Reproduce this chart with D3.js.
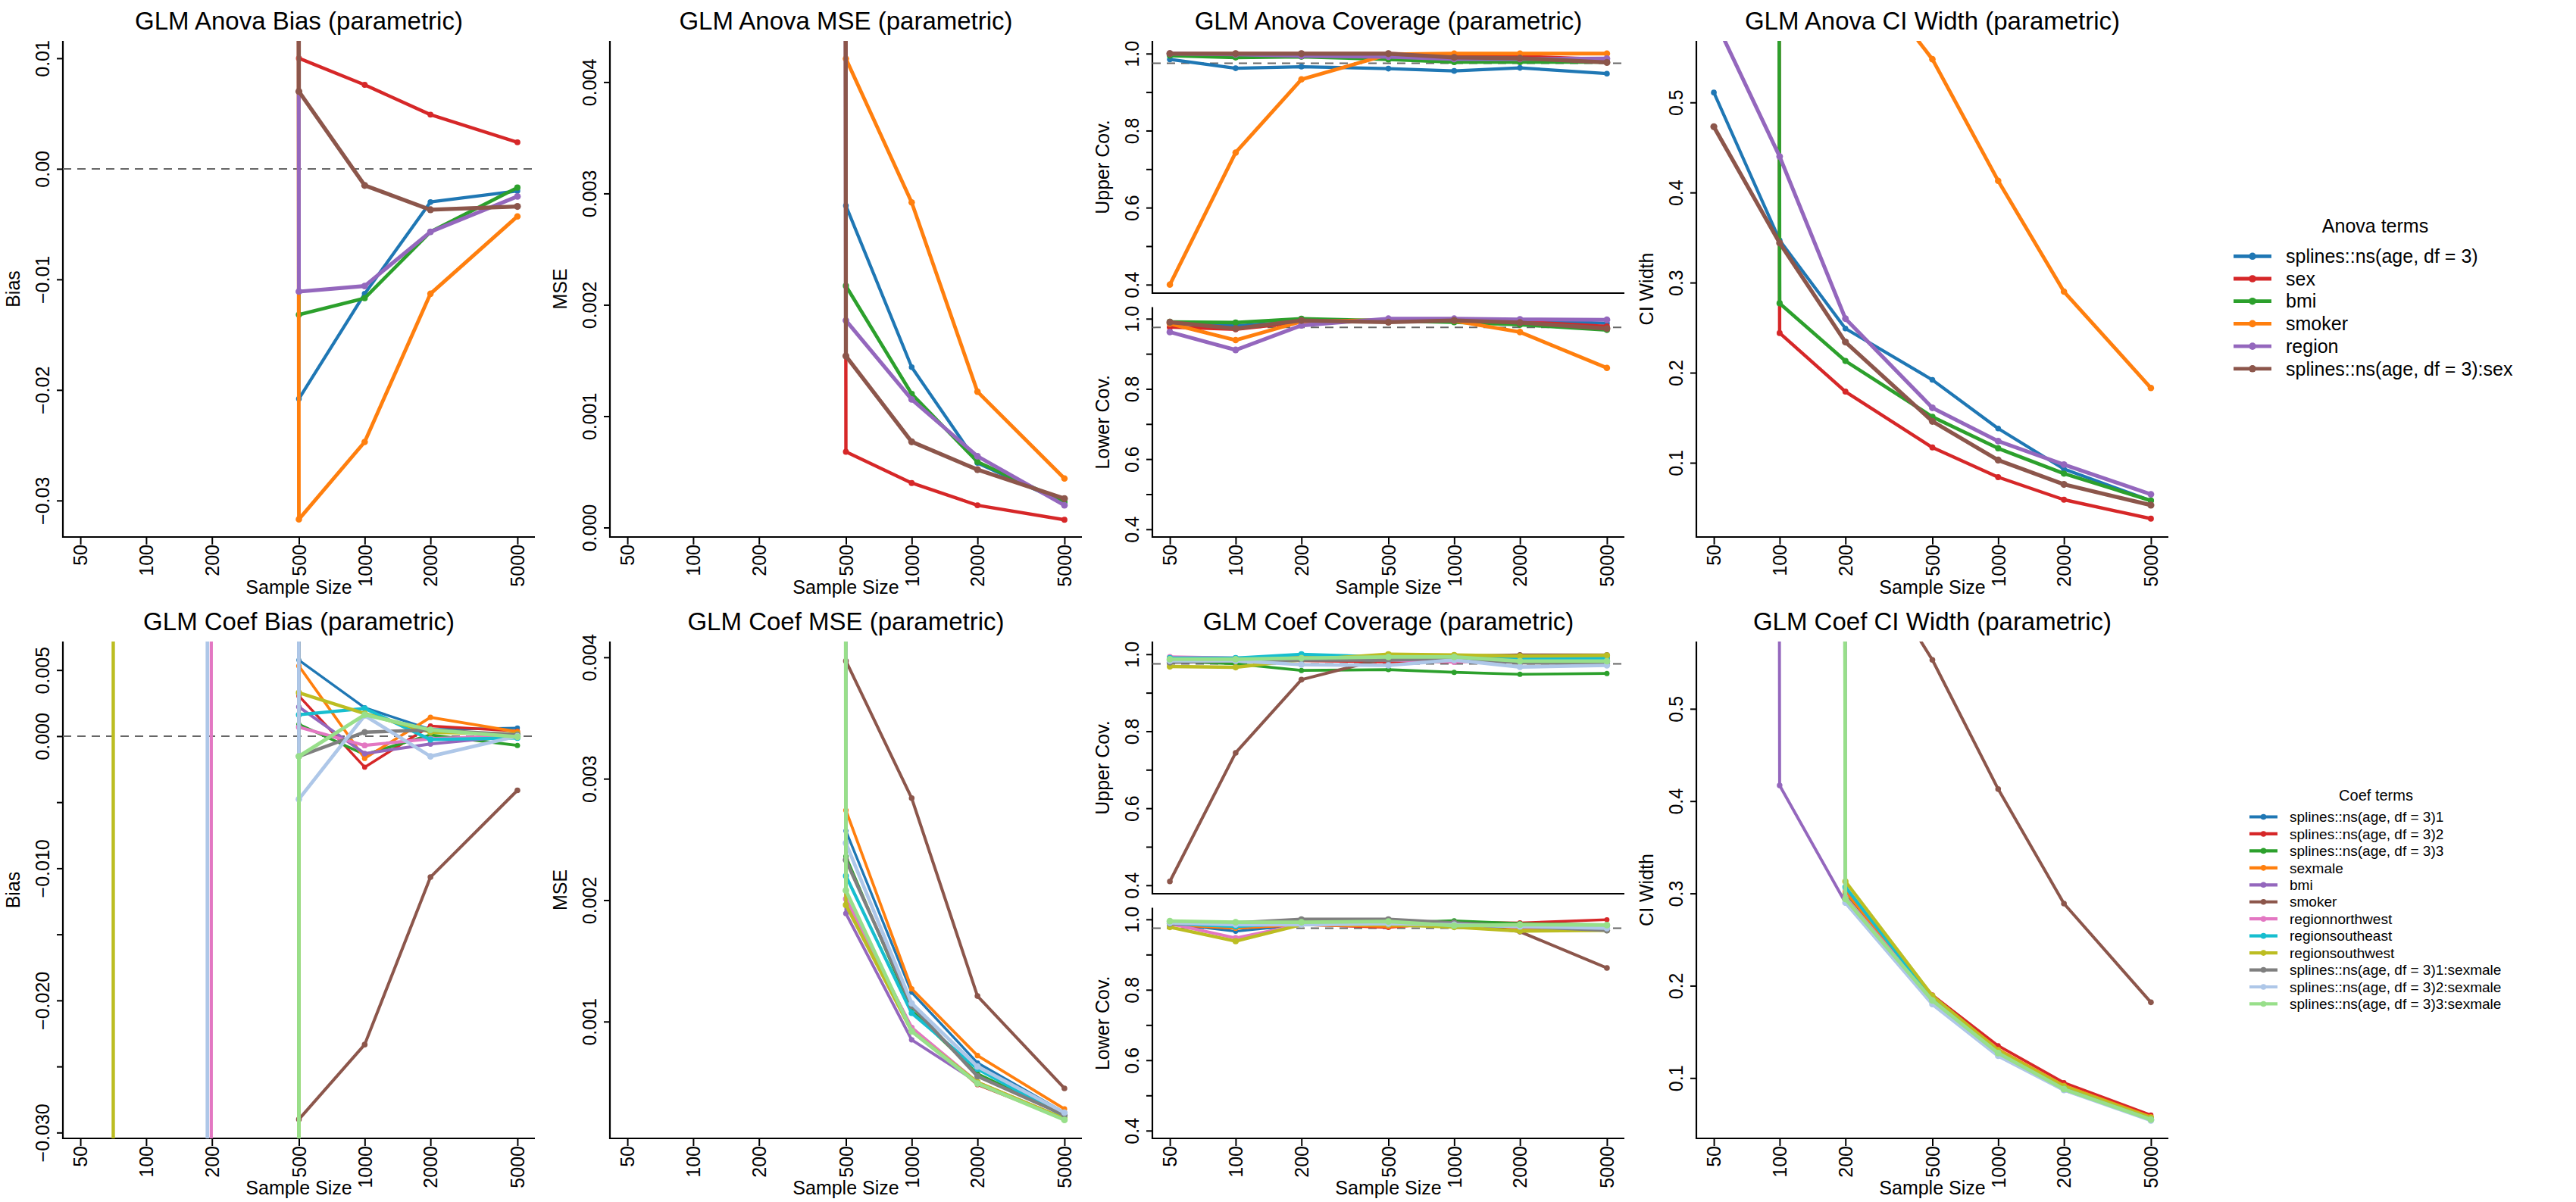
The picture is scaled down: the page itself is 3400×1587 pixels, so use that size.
<!DOCTYPE html>
<html>
<head>
<meta charset="utf-8">
<script src="https://cdn.jsdelivr.net/npm/d3@7"></script>
<style>
  body { margin: 0; background: #fff; }
  text { font-family: "Liberation Sans", Arial, Helvetica, sans-serif; fill: #000; }
</style>
</head>
<body>
<div id="chart"></div>
<script>
// sample sizes on the (log) x axis
var sampleSizes = [50, 100, 200, 500, 1000, 2000, 5000];

var anovaTerms = ["splines::ns(age, df = 3)", "sex", "bmi", "smoker", "region", "splines::ns(age, df = 3):sex"];
var anovaColors = ["#1f77b4", "#d62728", "#2ca02c", "#ff7f0e", "#9467bd", "#8c564b"];

var coefTerms = ["splines::ns(age, df = 3)1", "splines::ns(age, df = 3)2", "splines::ns(age, df = 3)3",
  "sexmale", "bmi", "smoker", "regionnorthwest", "regionsoutheast", "regionsouthwest",
  "splines::ns(age, df = 3)1:sexmale", "splines::ns(age, df = 3)2:sexmale", "splines::ns(age, df = 3)3:sexmale"];
var coefColors = ["#1f77b4", "#d62728", "#2ca02c", "#ff7f0e", "#9467bd", "#8c564b",
  "#e377c2", "#17becf", "#bcbd22", "#7f7f7f", "#aec7e8", "#98df8a"];

// values per term, one per sample size (very large numbers = far off the chart)
var anovaBias = [
  [10, 10, 10, -0.0208, -0.0113, -0.0030, -0.0020],
  [10, 10, 10, 0.0100, 0.0076, 0.0049, 0.0024],
  [10, 10, 10, -0.0132, -0.0117, -0.0057, -0.0017],
  [10, 10, 10, -0.0317, -0.0247, -0.0113, -0.0043],
  [10, 10, 10, -0.0111, -0.0106, -0.0057, -0.0025],
  [10, 10, 10, 0.0070, -0.0015, -0.0037, -0.0034]
];
var anovaMSE = [
  [1, 1, 1, 0.00289, 0.00144, 0.00058, 0.00022],
  [1, 1, 1, 0.00068, 0.00040, 0.00020, 0.00007],
  [1, 1, 1, 0.00217, 0.00120, 0.00059, 0.00023],
  [1, 1, 1, 0.00421, 0.00292, 0.00122, 0.00044],
  [1, 1, 1, 0.00186, 0.00115, 0.00064, 0.00020],
  [1, 1, 1, 0.00154, 0.00077, 0.00052, 0.00026]
];
var anovaUpperCov = [
  [0.985, 0.962, 0.966, 0.961, 0.955, 0.963, 0.948],
  [1.000, 1.000, 1.000, 1.000, 0.996, 0.993, 0.985],
  [0.995, 0.990, 0.992, 0.985, 0.978, 0.978, 0.978],
  [0.400, 0.743, 0.933, 0.998, 1.000, 1.000, 1.000],
  [1.000, 0.998, 0.994, 0.992, 0.986, 0.986, 0.987],
  [1.000, 1.000, 1.000, 1.000, 0.990, 0.988, 0.977]
];
var anovaLowerCov = [
  [0.986, 0.980, 0.992, 0.997, 0.998, 0.996, 0.987],
  [0.976, 0.970, 0.990, 0.996, 0.995, 0.992, 0.978],
  [0.991, 0.989, 1.000, 0.994, 0.990, 0.983, 0.968],
  [0.986, 0.939, 0.992, 0.996, 0.994, 0.962, 0.860],
  [0.962, 0.911, 0.981, 1.000, 1.000, 0.998, 0.997],
  [0.990, 0.972, 0.995, 0.990, 0.995, 0.989, 0.972]
];
var anovaCIWidth = [
  [0.511, 0.347, 0.249, 0.192, 0.138, 0.093, 0.058],
  [50, 0.244, 0.179, 0.117, 0.084, 0.059, 0.038],
  [50, 0.277, 0.213, 0.151, 0.116, 0.088, 0.058],
  [1.4, 0.95, 0.673, 0.548, 0.413, 0.290, 0.183],
  [0.594, 0.440, 0.260, 0.161, 0.124, 0.098, 0.065],
  [0.473, 0.344, 0.234, 0.146, 0.103, 0.076, 0.053]
];

var coefBias = [
  [100, 100, 100, 0.00575, 0.00215, 0.00050, 0.00062],
  [100, 100, 100, 0.00304, -0.00235, 0.00077, 0.00038],
  [100, 100, 100, 0.00089, -0.00139, 0.00009, -0.00070],
  [100, 100, 100, 0.00531, -0.00168, 0.00142, 0.00033],
  [100, 100, 100, 0.00221, -0.00132, -0.00059, 0.00003],
  [100, 100, 100, -0.02900, -0.02334, -0.01067, -0.00410],
  [-500, -500, 5, 0.00068, -0.00070, -0.00020, 0.00003],
  [100, 100, 100, 0.00162, 0.00210, -0.00026, -0.00014],
  [100, -100, -100, 0.00328, 0.00171, 0.00030, 0.00015],
  [100, 100, 100, -0.00153, 0.00030, 0.00047, 0.00010],
  [-135, -135, 10, -0.00477, 0.00156, -0.00153, 0.00000],
  [-100, -100, -100, -0.00153, 0.00162, 0.00047, -0.00006]
];
var coefMSE = [
  [1, 1, 1, 0.00257, 0.00124, 0.00066, 0.00025],
  [1, 1, 1, 0.00201, 0.00095, 0.00048, 0.00020],
  [1, 1, 1, 0.00236, 0.00109, 0.00057, 0.00023],
  [1, 1, 1, 0.00274, 0.00127, 0.00072, 0.00028],
  [1, 1, 1, 0.00189, 0.00085, 0.00050, 0.00020],
  [1, 1, 1, 0.00397, 0.00284, 0.00121, 0.00045],
  [1, 1, 1, 0.00201, 0.00095, 0.00050, 0.00020],
  [1, 1, 1, 0.00220, 0.00107, 0.00061, 0.00022],
  [1, 1, 1, 0.00196, 0.00092, 0.00050, 0.00020],
  [1, 1, 1, 0.00233, 0.00113, 0.00055, 0.00023],
  [1, 1, 1, 0.00247, 0.00115, 0.00063, 0.00025],
  [1, 1, 1, 0.00208, 0.00092, 0.00049, 0.00019]
];
var coefUpperCov = [
  [0.990, 0.990, 0.988, 0.990, 0.990, 0.988, 0.985],
  [0.985, 0.985, 0.983, 0.980, 0.980, 0.985, 0.985],
  [0.982, 0.975, 0.958, 0.960, 0.953, 0.948, 0.950],
  [0.988, 0.990, 0.992, 0.995, 0.995, 0.993, 0.995],
  [0.992, 0.990, 0.990, 0.985, 0.990, 0.988, 0.990],
  [0.410, 0.744, 0.934, 0.992, 0.995, 0.998, 0.998],
  [0.993, 0.990, 0.988, 0.985, 0.980, 0.985, 0.988],
  [0.990, 0.990, 1.000, 0.992, 0.992, 0.990, 0.990],
  [0.968, 0.966, 0.985, 1.000, 0.998, 0.995, 0.997],
  [0.979, 0.983, 0.985, 0.985, 0.990, 0.978, 0.975],
  [0.983, 0.983, 0.973, 0.971, 0.985, 0.967, 0.971],
  [0.987, 0.987, 0.990, 0.993, 0.993, 0.982, 0.982]
];
var coefLowerCov = [
  [0.988, 0.966, 0.985, 0.990, 0.988, 0.985, 0.980],
  [0.985, 0.975, 0.985, 0.977, 0.992, 0.990, 0.999],
  [0.990, 0.992, 0.992, 0.990, 0.996, 0.988, 0.985],
  [0.985, 0.975, 0.985, 0.980, 0.985, 0.975, 0.975],
  [0.988, 0.980, 0.988, 0.985, 0.985, 0.980, 0.978],
  [0.990, 0.985, 0.990, 0.992, 0.990, 0.965, 0.862],
  [0.988, 0.947, 0.985, 0.985, 0.990, 0.978, 0.975],
  [0.988, 0.980, 0.990, 0.990, 0.985, 0.980, 0.978],
  [0.978, 0.938, 0.985, 0.985, 0.978, 0.967, 0.969],
  [0.988, 0.990, 1.000, 1.000, 0.990, 0.980, 0.969],
  [0.990, 0.985, 0.985, 0.988, 0.985, 0.980, 0.975],
  [0.995, 0.992, 0.992, 0.994, 0.982, 0.985, 0.984]
];
var coefCIWidth = [
  [50, 50, 0.305, 0.188, 0.130, 0.091, 0.057],
  [50, 50, 0.298, 0.190, 0.135, 0.095, 0.060],
  [50, 50, 0.300, 0.187, 0.129, 0.090, 0.057],
  [50, 50, 0.302, 0.188, 0.131, 0.092, 0.058],
  [50, 0.417, 0.290, 0.183, 0.125, 0.087, 0.055],
  [1.5, 1.0, 0.704, 0.553, 0.413, 0.289, 0.182],
  [50, 50, 0.296, 0.185, 0.127, 0.089, 0.056],
  [50, 50, 0.307, 0.186, 0.128, 0.089, 0.056],
  [50, 50, 0.313, 0.189, 0.130, 0.091, 0.057],
  [50, 50, 0.294, 0.183, 0.126, 0.088, 0.055],
  [50, 50, 0.290, 0.180, 0.124, 0.087, 0.054],
  [50, 50, 0.294, 0.184, 0.127, 0.088, 0.055]
];

// y tick values
var ticksAnovaBias = [-0.03, -0.02, -0.01, 0, 0.01];
var ticksAnovaMSE = [0, 0.001, 0.002, 0.003, 0.004];
var ticksCoefBias = [-0.03, -0.025, -0.02, -0.015, -0.01, -0.005, 0, 0.005];
var labelsCoefBias = [-0.03, -0.02, -0.01, 0, 0.005];
var ticksCoefMSE = [0.001, 0.002, 0.003, 0.004];
var ticksCov = [0.4, 0.5, 0.6, 0.7, 0.8, 0.9, 1.0];
var labelsCov = [0.4, 0.6, 0.8, 1.0];
var ticksWidth = [0.1, 0.2, 0.3, 0.4, 0.5];

var W = 3400, H = 1587;
var colLeft = [83, 805, 1521, 2239], plotW = 623;
var rows = [
  { y0: 54, y1: 709, title: 39, xlab: 784 },
  { y0: 847, y1: 1503, title: 832, xlab: 1577 }
];

var svg = d3.select("#chart").append("svg")
  .attr("width", W).attr("height", H)
  .style("display", "block");
var defs = svg.append("defs");
var clipId = 0;

// Liang-Barsky segment clip in pixel space
function clipSeg(p, q, r) {
  var t0 = 0, t1 = 1, dx = q[0] - p[0], dy = q[1] - p[1];
  var P = [-dx, dx, -dy, dy];
  var Q = [p[0] - r.x0, r.x1 - p[0], p[1] - r.y0, r.y1 - p[1]];
  for (var i = 0; i < 4; i++) {
    if (P[i] === 0) { if (Q[i] < 0) return null; }
    else {
      var t = Q[i] / P[i];
      if (P[i] < 0) { if (t > t1) return null; if (t > t0) t0 = t; }
      else { if (t < t0) return null; if (t < t1) t1 = t; }
    }
  }
  return [[p[0] + t0 * dx, p[1] + t0 * dy], [p[0] + t1 * dx, p[1] + t1 * dy]];
}

function xScale(col) {
  var pad = Math.pow(10, 0.08);
  return d3.scaleLog().domain([50 / pad, 5000 * pad]).range([colLeft[col], colLeft[col] + plotW]);
}

// one box: L-shaped frame, y axis, optional x axis, ref line, series
function drawBox(o) {
  var x = o.x, y0 = o.y0, y1 = o.y1, L = colLeft[o.col], R = L + plotW;
  var y = d3.scaleLinear().domain(o.ydom).range([y1, y0]);
  var g = svg.append("g");

  // y axis
  var fmt = d3.format(o.fmt);
  var ya = g.append("g").attr("transform", "translate(" + L + ",0)")
    .call(d3.axisLeft(y).tickValues(o.ticks).tickSize(8)
      .tickFormat(function(d) {
        return o.labels.some(function(v) { return Math.abs(v - d) < 1e-9; }) ? fmt(d) : "";
      }));
  ya.select(".domain").remove();
  ya.selectAll("line").attr("stroke", "#000").attr("stroke-width", 2);
  ya.selectAll("text")
    .attr("x", null).attr("dy", "0.35em")
    .attr("transform", "translate(-27,0) rotate(-90)")
    .attr("text-anchor", "middle")
    .style("font-size", "25px");

  if (o.showX) {
    var xa = g.append("g").attr("transform", "translate(0," + y1 + ")")
      .call(d3.axisBottom(x).tickValues(sampleSizes).tickSize(10).tickFormat(d3.format("d")));
    xa.select(".domain").remove();
    xa.selectAll("line").attr("stroke", "#000").attr("stroke-width", 2);
    xa.selectAll("text")
      .attr("y", null).attr("dy", "0.35em")
      .attr("transform", "translate(0,10) rotate(-90)")
      .attr("text-anchor", "end")
      .style("font-size", "25px");
  }

  // L frame
  g.append("path")
    .attr("d", "M" + L + "," + y0 + "V" + y1 + "H" + R)
    .attr("fill", "none").attr("stroke", "#000").attr("stroke-width", 2.2);

  // y label
  g.append("text")
    .attr("transform", "translate(" + (L - 66) + "," + ((y0 + y1) / 2) + ") rotate(-90)")
    .attr("text-anchor", "middle").attr("dy", "0.35em")
    .style("font-size", "25px")
    .text(o.ylab);

  // reference line
  if (o.ref !== undefined) {
    g.append("line")
      .attr("x1", L).attr("x2", R).attr("y1", y(o.ref)).attr("y2", y(o.ref))
      .attr("stroke", "#666").attr("stroke-width", 2).attr("stroke-dasharray", "11,8");
  }

  // series
  var id = "clip" + (clipId++);
  defs.append("clipPath").attr("id", id).append("rect")
    .attr("x", L).attr("y", y0).attr("width", plotW).attr("height", y1 - y0);
  var sg = g.append("g").attr("clip-path", "url(#" + id + ")");
  var rect = { x0: L, x1: R, y0: y0, y1: y1 };
  var n = o.data.length;
  o.data.forEach(function(vals, i) {
    var t = n > 1 ? i / (n - 1) : 0;
    var w = o.lw[0] + t * (o.lw[1] - o.lw[0]);
    var r = o.rr[0] + t * (o.rr[1] - o.rr[0]);
    var pts = sampleSizes.map(function(s, j) { return [x(s), y(vals[j])]; });
    var p = d3.path(), last = null;
    for (var j = 1; j < pts.length; j++) {
      var s = clipSeg(pts[j - 1], pts[j], rect);
      if (!s) { last = null; continue; }
      if (!last || Math.abs(last[0] - s[0][0]) > 0.01 || Math.abs(last[1] - s[0][1]) > 0.01) p.moveTo(s[0][0], s[0][1]);
      p.lineTo(s[1][0], s[1][1]);
      last = s[1];
    }
    sg.append("path").attr("d", p.toString())
      .attr("fill", "none").attr("stroke", o.colors[i]).attr("stroke-width", w)
      .attr("stroke-linejoin", "round").attr("stroke-linecap", "round");
    sg.selectAll(null)
      .data(sampleSizes.map(function(s, j) { return [s, vals[j]]; })
        .filter(function(d) { return d[1] >= o.ydom[0] && d[1] <= o.ydom[1]; }))
      .enter().append("circle")
      .attr("cx", function(d) { return x(d[0]); })
      .attr("cy", function(d) { return y(d[1]); })
      .attr("r", r)
      .attr("fill", o.colors[i]);
  });
}

function titleAndXlab(col, row, title) {
  var cx = colLeft[col] + plotW / 2;
  svg.append("text").attr("x", cx).attr("y", rows[row].title)
    .attr("text-anchor", "middle").style("font-size", "33px").text(title);
  svg.append("text").attr("x", cx).attr("y", rows[row].xlab)
    .attr("text-anchor", "middle").style("font-size", "25px").text("Sample Size");
}

function drawPanel(col, row, title, ylab, data, colors, ydom, ticks, labels, fmt, ref, lw, rr) {
  drawBox({ col: col, x: xScale(col), y0: rows[row].y0, y1: rows[row].y1, ydom: ydom,
    ticks: ticks, labels: labels, fmt: fmt, ylab: ylab, data: data, colors: colors,
    ref: ref, lw: lw, rr: rr, showX: true });
  titleAndXlab(col, row, title);
}

function drawCoverage(col, row, title, upper, lower, colors, lw, rr) {
  var y0 = rows[row].y0, y1 = rows[row].y1, x = xScale(col);
  var covDom = [0.378, 1.033];
  drawBox({ col: col, x: x, y0: y0, y1: y0 + 333, ydom: covDom, ticks: ticksCov, labels: labelsCov,
    fmt: ".1f", ylab: "Upper Cov.", data: upper, colors: colors, ref: 0.975, lw: lw, rr: rr, showX: false });
  drawBox({ col: col, x: x, y0: y0 + 351.5, y1: y1, ydom: covDom, ticks: ticksCov, labels: labelsCov,
    fmt: ".1f", ylab: "Lower Cov.", data: lower, colors: colors, ref: 0.975, lw: lw, rr: rr, showX: true });
  titleAndXlab(col, row, title);
}

var lwA = [4.2, 5.3], rA = [3.8, 4.6];
var lwC = [3.4, 4.8], rC = [3.3, 4.4];

drawPanel(0, 0, "GLM Anova Bias (parametric)", "Bias", anovaBias, anovaColors,
  [-0.0333, 0.01157], ticksAnovaBias, ticksAnovaBias, ".2f", 0, lwA, rA);
drawPanel(1, 0, "GLM Anova MSE (parametric)", "MSE", anovaMSE, anovaColors,
  [-0.000085, 0.00437], ticksAnovaMSE, ticksAnovaMSE, ".3f", undefined, lwA, rA);
drawCoverage(2, 0, "GLM Anova Coverage (parametric)", anovaUpperCov, anovaLowerCov, anovaColors, lwA, rA);
drawPanel(3, 0, "GLM Anova CI Width (parametric)", "CI Width", anovaCIWidth, anovaColors,
  [0.0176, 0.5683], ticksWidth, ticksWidth, ".1f", undefined, lwA, rA);

drawPanel(0, 1, "GLM Coef Bias (parametric)", "Bias", coefBias, coefColors,
  [-0.03044, 0.00716], ticksCoefBias, labelsCoefBias, ".3f", 0, lwC, rC);
drawPanel(1, 1, "GLM Coef MSE (parametric)", "MSE", coefMSE, coefColors,
  [0.000038, 0.00413], ticksCoefMSE, ticksCoefMSE, ".3f", undefined, lwC, rC);
drawCoverage(2, 1, "GLM Coef Coverage (parametric)", coefUpperCov, coefLowerCov, coefColors, lwC, rC);
drawPanel(3, 1, "GLM Coef CI Width (parametric)", "CI Width", coefCIWidth, coefColors,
  [0.0346, 0.5729], ticksWidth, ticksWidth, ".1f", undefined, lwC, rC);

// legends
function legend(title, terms, colors, cx, titleY, rowY, step, x1, x2, tx, fsTitle, fs, lw, r) {
  var g = svg.append("g");
  g.append("text").attr("x", cx).attr("y", titleY).attr("text-anchor", "middle")
    .style("font-size", fsTitle + "px").text(title);
  var item = g.selectAll(".item").data(terms).enter().append("g")
    .attr("transform", function(d, i) { return "translate(0," + (rowY + i * step) + ")"; });
  item.append("line").attr("x1", x1).attr("x2", x2)
    .attr("stroke", function(d, i) { return colors[i]; }).attr("stroke-width", lw);
  item.append("circle").attr("cx", (x1 + x2) / 2).attr("r", r)
    .attr("fill", function(d, i) { return colors[i]; });
  item.append("text").attr("x", tx).attr("dy", "0.35em")
    .style("font-size", fs + "px").text(function(d) { return d; });
}

legend("Anova terms", anovaTerms, anovaColors, 3135, 307, 338.3, 29.7, 2948, 2998, 3017, 25, 25, 4.8, 4.8);
legend("Coef terms", coefTerms, coefColors, 3136, 1057, 1078.5, 22.45, 2969, 3006, 3022, 20, 19, 4.2, 3.8);
</script>
</body>
</html>
